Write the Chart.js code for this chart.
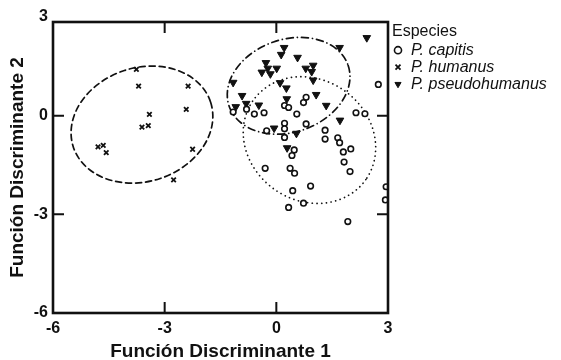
<!DOCTYPE html>
<html>
<head>
<meta charset="utf-8">
<script src="https://cdn.jsdelivr.net/npm/chart.js@4"></script>
<style>
    body { margin: 0; background: #fff; }
    #wrap { width: 561px; height: 360px; }
</style>
</head>
<body>
<div id="wrap"><canvas id="discChart" width="561" height="360"></canvas></div>
<script>
// Function 1 / Function 2 scores
const capitisX = [2.74, -1.16, -0.80, -0.59, -0.33, 0.22, 0.33, 0.73, 0.80, 0.55, 2.14, 2.38,
    -0.26, 0.22, 0.22, 0.22, 0.80, 1.31, 1.31, 1.65, 1.70, 2.00, 1.80, 1.82, 1.98,
    0.48, 0.42, -0.30, 0.37, 0.49, 0.92, 0.44, 0.73, 0.33, 1.92, 2.95, 2.93];
const capitisY = [0.95, 0.11, 0.20, 0.05, 0.09, 0.31, 0.25, 0.40, 0.56, 0.05, 0.09, 0.06,
    -0.46, -0.23, -0.40, -0.66, -0.25, -0.44, -0.71, -0.67, -0.82, -1.01, -1.10, -1.41, -1.70,
    -1.04, -1.21, -1.60, -1.60, -1.75, -2.14, -2.28, -2.66, -2.79, -3.22, -2.16, -2.56];

const humanusX = [-3.76, -3.70, -2.37, -2.42, -3.41, -3.61, -3.44, -4.79, -4.65, -4.57, -2.25, -2.76];
const humanusY = [1.41, 0.90, 0.90, 0.19, 0.04, -0.35, -0.30, -0.95, -0.90, -1.12, -1.02, -1.95];

const pseudoX = [2.43, 1.70, 0.21, 0.13, 0.57, -0.28, 0.99, 0.79, -0.23, 0.01, -0.39, -0.16, 0.95, -1.16,
    0.10, 0.27, 0.99, -0.92, 1.07, -0.47, -0.81, -1.09, 0.28, 1.34, 1.71, -0.06, 0.54, 0.29];
const pseudoY = [2.37, 2.07, 2.07, 1.86, 1.77, 1.61, 1.53, 1.44, 1.44, 1.44, 1.32, 1.27, 1.34, 1.01,
    1.00, 0.84, 1.08, 0.61, 0.64, 0.32, 0.37, 0.27, 0.51, 0.31, -0.14, -0.38, -0.54, -0.98];

const speciesNames = ["P. capitis", "P. humanus", "P. pseudohumanus"];

// group ellipses: humanus, pseudohumanus, capitis
const ellipseCenterX = [-3.61, 0.33, 0.89];
const ellipseCenterY = [-0.27, 0.91, -0.74];
const ellipseRadiusX = [1.94, 1.69, 1.85];
const ellipseRadiusY = [1.73, 1.41, 1.84];
const ellipseAngle = [-18, -19, 35];

const xTicks = [-6, -3, 0, 3];
const yTicks = [-6, -3, 0, 3];
const innerTicks = [-3, 0];

function toPoints(xs, ys) {
    return xs.map((x, i) => ({ x: x, y: ys[i] }));
}

const ink = "#111";
const fontFamily = "'Liberation Sans', Arial, sans-serif";
const legendWidth = 173;

const framePlugin = {
    id: "frame",
    afterInit(chart) {
        // the layout caps side boxes at a quarter of the width; give the legend its full room
        const legend = chart.legend;
        const fit = legend.fit;
        legend.fit = function () {
            fit.call(this);
            this.width = legendWidth;
        };
    },
    afterLayout(chart) {
        chart.legend.left = chart.chartArea.right + 4;
    },
    beforeDatasetsDraw(chart) {
        const ctx = chart.ctx;
        const xs = chart.scales.x, ys = chart.scales.y;
        const dashes = [[6, 4], [7, 4, 0.1, 4], [0.1, 4.6]];
        ctx.save();
        ctx.strokeStyle = ink;
        ctx.lineWidth = 1.7;
        ctx.lineCap = "round";
        for (let i = 0; i < ellipseCenterX.length; i++) {
            const cx = xs.getPixelForValue(ellipseCenterX[i]);
            const cy = ys.getPixelForValue(ellipseCenterY[i]);
            const rx = Math.abs(xs.getPixelForValue(ellipseCenterX[i] + ellipseRadiusX[i]) - cx);
            const ry = Math.abs(ys.getPixelForValue(ellipseCenterY[i] + ellipseRadiusY[i]) - cy);
            ctx.setLineDash(dashes[i]);
            ctx.beginPath();
            ctx.ellipse(cx, cy, rx, ry, ellipseAngle[i] * Math.PI / 180, 0, Math.PI * 2);
            ctx.stroke();
        }
        ctx.restore();
    },
    afterDraw(chart) {
        const ctx = chart.ctx;
        const a = chart.chartArea;
        const xs = chart.scales.x, ys = chart.scales.y;
        const len = 11;
        ctx.save();
        ctx.strokeStyle = ink;
        ctx.lineWidth = 2.6;
        ctx.strokeRect(a.left, a.top, a.right - a.left, a.bottom - a.top);
        ctx.lineWidth = 2;
        ctx.beginPath();
        innerTicks.forEach(v => {
            const px = xs.getPixelForValue(v);
            ctx.moveTo(px, a.top); ctx.lineTo(px, a.top + len);
            ctx.moveTo(px, a.bottom); ctx.lineTo(px, a.bottom - len);
            const py = ys.getPixelForValue(v);
            ctx.moveTo(a.left, py); ctx.lineTo(a.left + len, py);
            ctx.moveTo(a.right, py); ctx.lineTo(a.right - len, py);
        });
        ctx.stroke();
        ctx.restore();
    }
};

document.addEventListener("DOMContentLoaded", function () {
    const canvas = document.getElementById("discChart");

    new Chart(canvas, {
        type: "scatter",
        data: {
            datasets: [{
                label: speciesNames[0],
                data: toPoints(capitisX, capitisY),
                pointStyle: "circle",
                pointRadius: 2.8,
                pointBorderWidth: 1.6,
                borderColor: ink,
                backgroundColor: "#fff",
                clip: 0
            }, {
                label: speciesNames[1],
                data: toPoints(humanusX, humanusY),
                pointStyle: "crossRot",
                pointRadius: 3.2,
                pointBorderWidth: 1.8,
                borderColor: ink,
                backgroundColor: ink
            }, {
                label: speciesNames[2],
                data: toPoints(pseudoX, pseudoY),
                pointStyle: "triangle",
                rotation: 180,
                pointRadius: 4.4,
                pointBorderWidth: 1,
                borderColor: ink,
                backgroundColor: ink
            }]
        },
        options: {
            responsive: false,
            devicePixelRatio: 1,
            animation: false,
            layout: { padding: { left: 3, top: 22, right: 0, bottom: 0 } },
            scales: {
                x: {
                    type: "linear",
                    min: -6,
                    max: 3,
                    afterBuildTicks: s => { s.ticks = xTicks.map(v => ({ value: v })); },
                    afterFit: s => { s.height = 47; },
                    grid: { display: false, drawTicks: false },
                    border: { display: false },
                    ticks: { padding: 6, color: ink, font: { family: fontFamily, size: 16, weight: "bold" } },
                    title: {
                        display: true,
                        text: "Función Discriminante 1",
                        color: ink,
                        padding: { top: 0, bottom: -3 },
                        font: { family: fontFamily, size: 19, weight: "bold" }
                    }
                },
                y: {
                    type: "linear",
                    min: -6,
                    max: 2.85,
                    afterBuildTicks: s => { s.ticks = yTicks.map(v => ({ value: v })); },
                    afterFit: s => { s.width = 50; },
                    grid: { display: false, drawTicks: false },
                    border: { display: false },
                    ticks: { padding: 5, color: ink, autoSkip: false, font: { family: fontFamily, size: 16, weight: "bold" } },
                    title: {
                        display: true,
                        text: "Función Discriminante 2",
                        color: ink,
                        padding: { top: 3, bottom: 0 },
                        font: { family: fontFamily, size: 19, weight: "bold" }
                    }
                }
            },
            plugins: {
                tooltip: { enabled: false },
                legend: {
                    position: "right",
                    align: "start",
                    title: {
                        display: true,
                        text: "Especies",
                        position: "start",
                        color: ink,
                        padding: { top: 2, bottom: -2 },
                        font: { family: fontFamily, size: 16 }
                    },
                    labels: {
                        usePointStyle: true,
                        boxWidth: 10,
                        boxHeight: 5,
                        padding: 1,
                        color: ink,
                        font: { family: fontFamily, size: 16, style: "italic" }
                    }
                }
            }
        },
        plugins: [framePlugin]
    });
});
</script>
</body>
</html>
